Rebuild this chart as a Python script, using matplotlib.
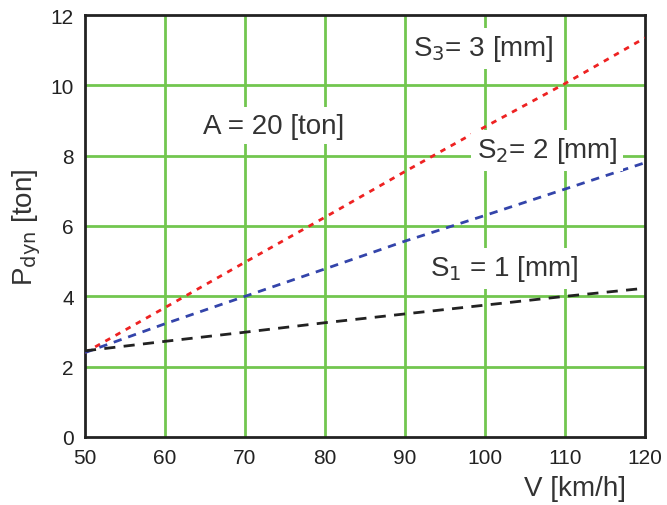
import matplotlib.pyplot as plt
import numpy as np

plt.rcParams['font.family'] = ['Liberation Sans', 'DejaVu Sans']

# speeds, km/h
v = [50, 60, 70, 80, 90, 100, 110, 120]

# dynamic load for each settlement
p_s3 = [2.4, 3.68, 4.97, 6.25, 7.55, 8.82, 10.05, 11.35]
p_s2 = [2.4, 3.22, 4.0, 4.78, 5.57, 6.3, 7.05, 7.8]
p_s1 = [2.45, 2.72, 2.98, 3.25, 3.5, 3.75, 4.0, 4.23]

xticks = [50, 60, 70, 80, 90, 100, 110, 120]
yticks = [0, 2, 4, 6, 8, 10, 12]

fig = plt.figure(figsize=(6.67, 5.06), dpi=100)
ax = fig.add_axes([85 / 667, 1 - 438 / 506, 560 / 667, 422 / 506])

grid_col = '#72c64f'
for x in xticks[1:-1]:
    ax.axvline(x, color=grid_col, lw=2, zorder=1)
for y in yticks[1:-1]:
    ax.axhline(y, color=grid_col, lw=2, zorder=1)

ax.plot(v, p_s3, color='#ee2222', lw=2, dashes=(2, 2.2), zorder=3)
ax.plot(v, p_s2, color='#3344aa', lw=2, dashes=(3, 2.5), zorder=3)
ax.plot(v, p_s1, color='#222222', lw=2, dashes=(4, 3), zorder=3)

ax.set_xlim(50, 120)
ax.set_ylim(0, 12)
ax.set_xticks(xticks)
ax.set_yticks(yticks)
ax.tick_params(length=0, labelsize=15, pad=8, colors='#222222')
for s in ax.spines.values():
    s.set_linewidth(2)
    s.set_color('#222222')

box = dict(facecolor='white', edgecolor='none', pad=4)
txt = dict(fontsize=20, color='#333333', ha='center', va='center', bbox=box, zorder=4)
ax.text(73.6, 8.85, 'A = 20 [ton]', **txt)
ax.text(99.8, 11.05, r'S$_3$= 3 [mm]', **txt)
ax.text(107.8, 8.15, r'S$_2$= 2 [mm]', **txt)
ax.text(102.4, 4.8, r'S$_1$ = 1 [mm]', **txt)

ax.set_xlabel('V [km/h]', fontsize=20, color='#333333')
ax.xaxis.set_label_coords(0.875, -0.09)
ax.set_ylabel(r'P$_{\rm dyn}$ [ton]', fontsize=20, color='#333333')
ax.yaxis.set_label_coords(-0.075, 0.5)

fig.savefig('out.png', dpi=100)
